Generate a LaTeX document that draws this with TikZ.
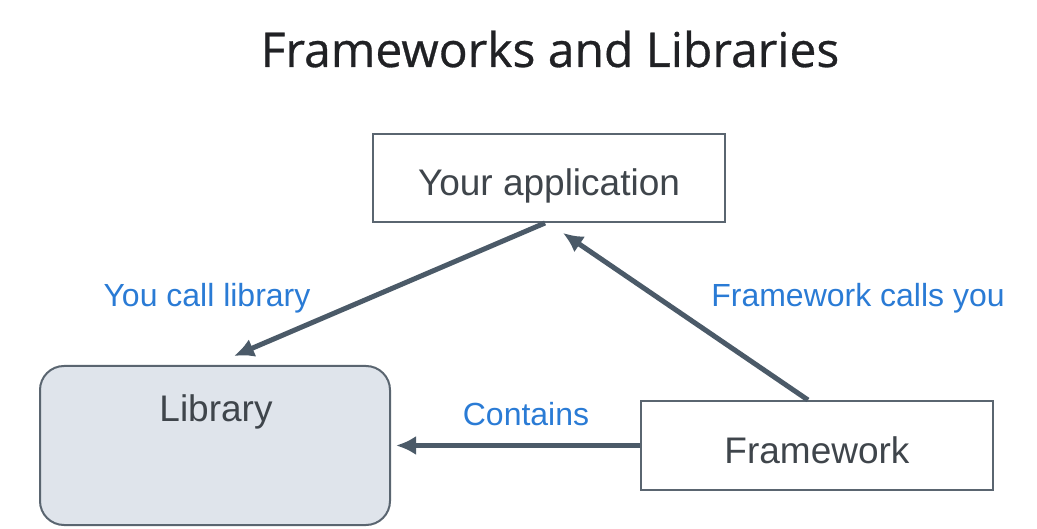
\documentclass[tikz,border=0pt]{standalone}
\usepackage{fontspec}
\setmainfont{Liberation Sans}
\newfontfamily\titlefont[FakeBold=0.6]{Open Sans}
\usetikzlibrary{arrows.meta}
\definecolor{boxline}{HTML}{5A6570}
\definecolor{arrline}{HTML}{4B5A68}
\definecolor{libfill}{HTML}{DFE4EB}
\definecolor{labblue}{HTML}{2A7BD5}
\definecolor{boxtext}{HTML}{3F454B}
\definecolor{titletext}{HTML}{202124}
\tikzset{
  box/.style={draw=boxline, line width=2pt, minimum width=352pt, inner sep=0pt,
    font=\fontsize{37}{40}\selectfont, text=boxtext, text height=42pt, text depth=6pt},
  arr/.style={draw=arrline, line width=5pt, -{Latex[length=20pt,width=19pt]}},
  lab/.style={font=\fontsize{32}{36}\selectfont, text=labblue, inner sep=0pt},
}
\begin{document}
\begin{tikzpicture}[x=1pt,y=1pt]
\useasboundingbox (0,0) rectangle (1037,528);
\node[font=\titlefont\fontsize{48}{52}\selectfont, text=titletext, inner sep=0pt] (title) at (550,479) {Frameworks and Libraries};
\node[box, minimum height=88pt] (app) at (549,350) {Your application};
\node[box, minimum width=350pt, minimum height=159pt, fill=libfill, rounded corners=24pt] (lib) at (215,82.5) {};
\node[font=\fontsize{37}{40}\selectfont, text=boxtext, inner sep=0pt] (libtext) at (216,116) {Library};
\node[box, minimum height=89pt] (fw) at (817,82.5) {Framework};
\coordinate (libtop) at ([xshift=195pt,yshift=9pt]lib.north west);
\coordinate (appbot) at ([xshift=14pt,yshift=-10pt]app.south);
\coordinate (libright) at ([xshift=5pt]lib.east);
\draw[arr] ([xshift=-4pt]app.south) -- (libtop);
\draw[arr] ([xshift=-9pt]fw.north) -- (appbot);
\draw[arr] (fw.west) -- (libright);
\node[lab] (l1) at (207,230) {You call library};
\node[lab] (l2) at (858,230) {Framework calls you};
\node[lab] (l3) at (526,114) {Contains};
\end{tikzpicture}
\end{document}
